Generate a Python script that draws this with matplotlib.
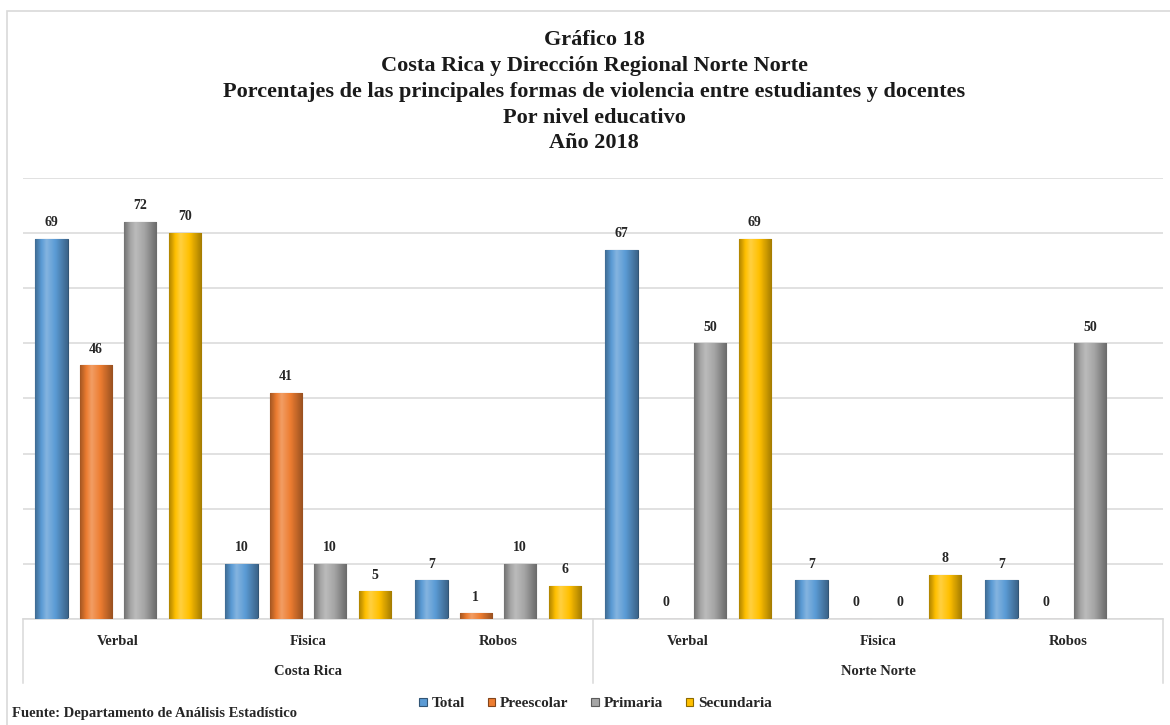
import numpy as np
import matplotlib
matplotlib.use('Agg')
import matplotlib.pyplot as plt
from matplotlib.colors import to_rgb
from matplotlib.lines import Line2D
from matplotlib.patches import Rectangle

plt.rcParams['font.family'] = ['Liberation Serif', 'DejaVu Serif']
plt.rcParams['font.weight'] = 'bold'

# data
regions = ['Costa Rica', 'Norte Norte']
forms = ['Verbal', 'Fisica', 'Robos']
series = ['Total', 'Preescolar', 'Primaria', 'Secundaria']
colors = ['#5B9BD5', '#ED7D31', '#A5A5A5', '#FFC000']

total = [69, 10, 7, 67, 7, 7]
preescolar = [46, 41, 1, 0, 0, 0]
primaria = [72, 10, 10, 50, 0, 50]
secundaria = [70, 5, 6, 69, 8, np.nan]

values = [total, preescolar, primaria, secundaria]

title = ('Gráfico 18\n'
         'Costa Rica y Dirección Regional Norte Norte\n'
         'Porcentajes de las principales formas de violencia entre estudiantes y docentes\n'
         'Por nivel educativo\n'
         'Año 2018')
source = 'Fuente: Departamento de Análisis Estadístico'


def shade(c, f):
    # f > 0 lighten, f < 0 darken
    c = np.array(to_rgb(c))
    if f >= 0:
        return c + (1 - c) * f
    return c * (1 + f)


def cylinder(ax, bar, color):
    # fake the excel 3d cylinder look with a horizontal gradient
    x0 = bar.get_x()
    w = bar.get_width()
    h = bar.get_height()
    if h <= 0:
        return
    t = np.linspace(0, 1, 40)
    prof = np.where(t < 0.35, -0.3 + (t / 0.35) * 0.55, 0.25 - (t - 0.35) / 0.65 * 0.6)
    grad = np.array([shade(color, p) for p in prof])[None, :, :]
    im = ax.imshow(grad, extent=(x0, x0 + w, 0, h), aspect='auto', zorder=3,
                   interpolation='bilinear')
    im.set_clip_path(bar)


fig = plt.figure(figsize=(11.7, 7.25), dpi=100)
ax = fig.add_axes([0.0197, 0.1462, 0.9744, 0.6083])

x = np.arange(len(total))
pitch = 0.234
width = 0.17
for i, (name, vals, col) in enumerate(zip(series, values, colors)):
    pos = x + (i - 1.5) * pitch
    bars = ax.bar(pos, np.nan_to_num(vals), width, color=col, label=name,
                  edgecolor=shade(col, -0.45), linewidth=0.8, zorder=2)
    for b, v in zip(bars, vals):
        cylinder(ax, b, col)
        if np.isnan(v):
            continue
        ax.annotate('%d' % v, (b.get_x() + b.get_width() / 2, b.get_height()),
                    xytext=(0, 7), textcoords='offset points', ha='center', va='bottom',
                    fontsize=10, fontweight='bold', color='#262626')

ax.set_xlim(-0.5, 5.5)
ax.set_ylim(0, 80)
ax.set_yticks(np.arange(0, 81, 10))
ax.set_yticklabels([])
ax.tick_params(left=False, bottom=False, labelbottom=False)
ax.grid(axis='y', color='#D9D9D9', linewidth=1.1, zorder=0)
ax.set_axisbelow(True)
for s in ['left', 'right', 'top']:
    ax.spines[s].set_visible(False)
ax.spines['bottom'].set_color('#D9D9D9')
ax.spines['bottom'].set_linewidth(1.1)

# two level category axis
tr = ax.get_xaxis_transform()
for j in range(len(total)):
    ax.text(x[j], -0.05, forms[j % 3], transform=tr, ha='center', va='center',
            fontsize=10.5, fontweight='bold', color='#262626')
for k, reg in enumerate(regions):
    ax.text(k * 3 + 1, -0.12, reg, transform=tr, ha='center', va='center',
            fontsize=10.5, fontweight='bold', color='#262626')
for xs in [-0.5, 2.5, 5.5]:
    ax.add_line(Line2D([xs, xs], [0, -0.145], transform=tr, color='#D9D9D9',
                       linewidth=1.1, clip_on=False))

fig.text(0.508, 0.958, title, ha='center', va='top', fontsize=16, fontweight='bold',
         linespacing=1.38, color='#1a1a1a')

leg = fig.legend(*ax.get_legend_handles_labels(), loc='center', bbox_to_anchor=(0.509, 0.029),
                 ncol=4, frameon=False, fontsize=11, handlelength=0.5, handleheight=0.5,
                 handletextpad=0.3, columnspacing=1.5)
for t in leg.get_texts():
    t.set_color('#262626')

fig.text(12 / 1170, 1 - 713 / 725, source, ha='left', va='center', fontsize=10.5,
         fontweight='bold', color='#262626')

# light frame around the chart area
fig.patches.append(Rectangle((7 / 1170, -0.05), 1.1, 1 - 11 / 725 + 0.05, transform=fig.transFigure,
                             fill=False, edgecolor='#D9D9D9', linewidth=1.2))

fig.savefig('out.png', dpi=100)
